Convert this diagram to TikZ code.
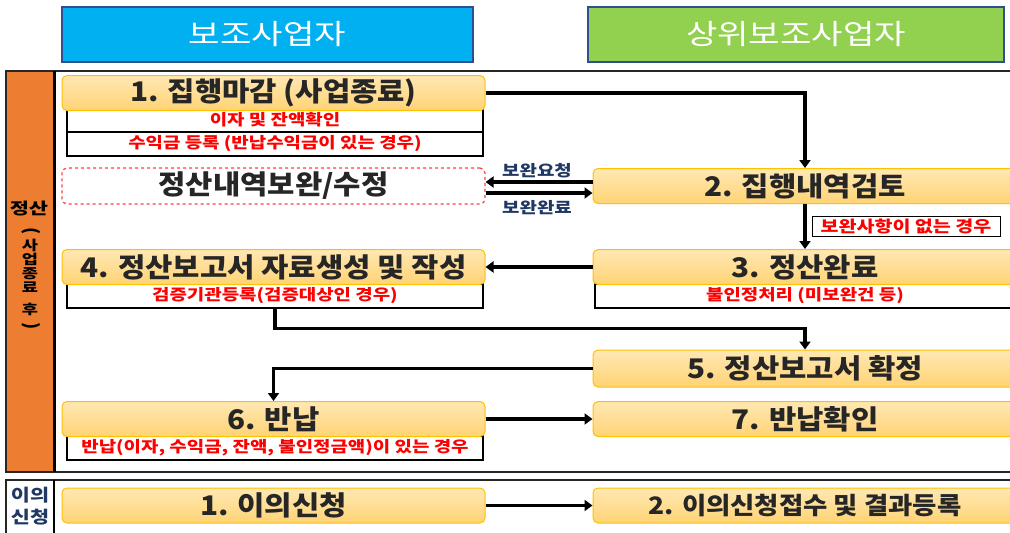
\documentclass[tikz,border=0pt]{standalone}
\usepackage{fontspec}
\setmainfont{Noto Sans CJK KR}
\newfontfamily\krw[FakeStretch=1.22]{Noto Sans CJK KR}
\newfontfamily\krv[FakeStretch=1.3]{Noto Sans CJK KR}
\newfontfamily\krm[FakeStretch=1.1]{Noto Sans CJK KR}
\usetikzlibrary{arrows.meta,calc}
\definecolor{hblue}{HTML}{00B0F0}
\definecolor{hgreen}{HTML}{92D050}
\definecolor{hedge}{HTML}{2F4F8F}
\definecolor{boxtop}{HTML}{FFE8B4}
\definecolor{boxbot}{HTML}{FFD374}
\definecolor{gold}{HTML}{FFC000}
\definecolor{strip}{HTML}{ED7D31}
\definecolor{txt}{HTML}{262626}
\definecolor{navy}{HTML}{1F3864}
\definecolor{red0}{HTML}{FF0000}
\tikzset{
  hdr/.style={draw=hedge, line width=1.5pt, minimum height=55pt, inner sep=0pt,
    text=white, font=\krw\fontsize{28}{28}\selectfont},
  mainbox/.style={rounded corners=5pt, draw=gold, line width=1pt, top color=boxtop,
    bottom color=boxbot, minimum height=35pt, inner sep=0pt, text=txt,
    font=\krm\bfseries\fontsize{27}{27}\selectfont},
  subbox/.style={draw=black, line width=1.2pt, fill=white, inner sep=0pt,
    minimum height=24pt, text=red0, font=\krw\bfseries\fontsize{15.5}{15.5}\selectfont},
  dashbox/.style={rounded corners=5pt, draw=red0!75, dashed, line width=1.2pt, fill=white,
    minimum height=36pt, inner sep=0pt, text=txt, font=\krm\bfseries\fontsize{27}{27}\selectfont},
  lbl/.style={inner sep=0pt, text=navy, font=\krw\bfseries\fontsize{15.5}{15.5}\selectfont},
  vtxt/.style={inner sep=0pt, text=black, text height=10pt, text depth=1pt,
    font=\krv\bfseries\fontsize{13.5}{13.5}\selectfont},
  arr/.style={line width=3.2pt, -{Triangle[length=8pt,width=11pt]}}
}
\begin{document}
\begin{tikzpicture}[x=1pt,y=-1pt]
\useasboundingbox (0,0) rectangle (1010,533);
% headers
\node[hdr, fill=hblue, minimum width=411pt] (h1) at (267.5,34.5) {보조사업자};
\node[hdr, fill=hgreen, minimum width=416pt] (h2) at (796,34.5) {상위보조사업자};
% section frames
\fill[strip] (7,71) rectangle (53,472);
\draw[line width=1.4pt, black!85] (5,71) -- (1012,71);
\draw[line width=1.2pt, black!85] (5,472) -- (1012,472);
\draw[line width=1.2pt, black!85] (6,71) -- (6,472);
\draw[line width=3pt] (54,71) -- (54,472);
\draw[line width=1.2pt, black!85] (5,480) -- (1012,480);
\draw[line width=1.2pt, black!85] (6,480) -- (6,535);
\draw[line width=1.6pt] (54,480) -- (54,535);
% strip labels
\node[vtxt, font=\krv\bfseries\fontsize{16}{16}\selectfont] (v0) at (29,210) {정산};
\node[vtxt, rotate=-90, font=\bfseries\fontsize{18}{18}\selectfont] (v1) at (30,231) {(};
\node[vtxt] (v2) at (30,246) {사};
\node[vtxt] (v3) at (30,260) {업};
\node[vtxt] (v4) at (30,274) {종};
\node[vtxt] (v5) at (30,288) {료};
\node[vtxt] (v6) at (30,310) {후};
\node[vtxt, rotate=-90, font=\bfseries\fontsize{18}{18}\selectfont] (v7) at (30,326) {)};
\node[vtxt, text=navy, font=\krw\bfseries\fontsize{17}{17}\selectfont] (w1) at (30,497) {이의};
\node[vtxt, text=navy, font=\krw\bfseries\fontsize{17}{17}\selectfont] (w2) at (30,519) {신청};
% sub boxes (drawn first)
\node[subbox, minimum width=416pt] (s1a) at (275,120) {이자 및 잔액확인};
\node[subbox, minimum width=416pt] (s1b) at (275,144) {수익금 등록 (반납수익금이 있는 경우)};
\node[subbox, minimum width=416pt] (s4) at (275,296) {검증기관등록(검증대상인 경우)};
\node[subbox, minimum width=416pt] (s6) at (275,448) {반납(이자, 수익금, 잔액, 불인정금액)이 있는 경우};
\node[subbox, minimum width=422pt] (s3) at (806,296) {\hspace*{-2pt}불인정처리 (미보완건 등)};
% main boxes
\node[mainbox, minimum width=423pt] (b1) at (273.5,93) {1. 집행마감 (사업종료)};
\node[dashbox, minimum width=423pt] (bd) at (273.5,186) {정산내역보완/수정};
\node[mainbox, minimum width=424pt] (b2) at (805,186) {2. 집행내역검토};
\node[mainbox, minimum width=424pt] (b3) at (805,267) {3. 정산완료};
\node[mainbox, minimum width=423pt] (b4) at (273.5,267) {4. 정산보고서 자료생성 및 작성};
\node[mainbox, minimum width=424pt, minimum height=37pt] (b5) at (805,368.5) {5. 정산보고서 확정};
\node[mainbox, minimum width=423pt] (b6) at (273.5,419) {6. 반납};
\node[mainbox, minimum width=424pt] (b7) at (805,419) {7. 반납확인};
\node[mainbox, minimum width=423pt] (c1) at (273.5,505.5) {1. 이의신청};
\node[mainbox, minimum width=424pt, font=\krm\bfseries\fontsize{24}{24}\selectfont] (c2) at (805,505.5) {2. 이의신청접수 및 결과등록};
% note
\node[subbox, line width=1pt, minimum width=188pt, minimum height=20pt, font=\krw\bfseries\fontsize{16}{16}\selectfont] (nt) at (906,226.5) {보완사항이 없는 경우};
% labels
\node[lbl] (l1) at (537,171) {보완요청};
\node[lbl] (l2) at (537,208) {보완완료};
% connectors
\draw[arr] (b1.east) -| (b2.north);
\draw[arr] (b2.west |- 0,182) -- (bd.east |- 0,182);
\draw[arr] (bd.east |- 0,193) -- (b2.west |- 0,193);
\draw[arr] (b2.south) -- (b3.north);
\draw[arr] (b3.west) -- (b4.east);
\draw[arr] (s4.south) -- ++(0,20) -| (b5.north);
\draw[arr] (b5.west) -| (b6.north);
\draw[arr] (b6.east) -- (b7.west);
\draw[arr] (c1.east) -- (c2.west);
\end{tikzpicture}
\end{document}
